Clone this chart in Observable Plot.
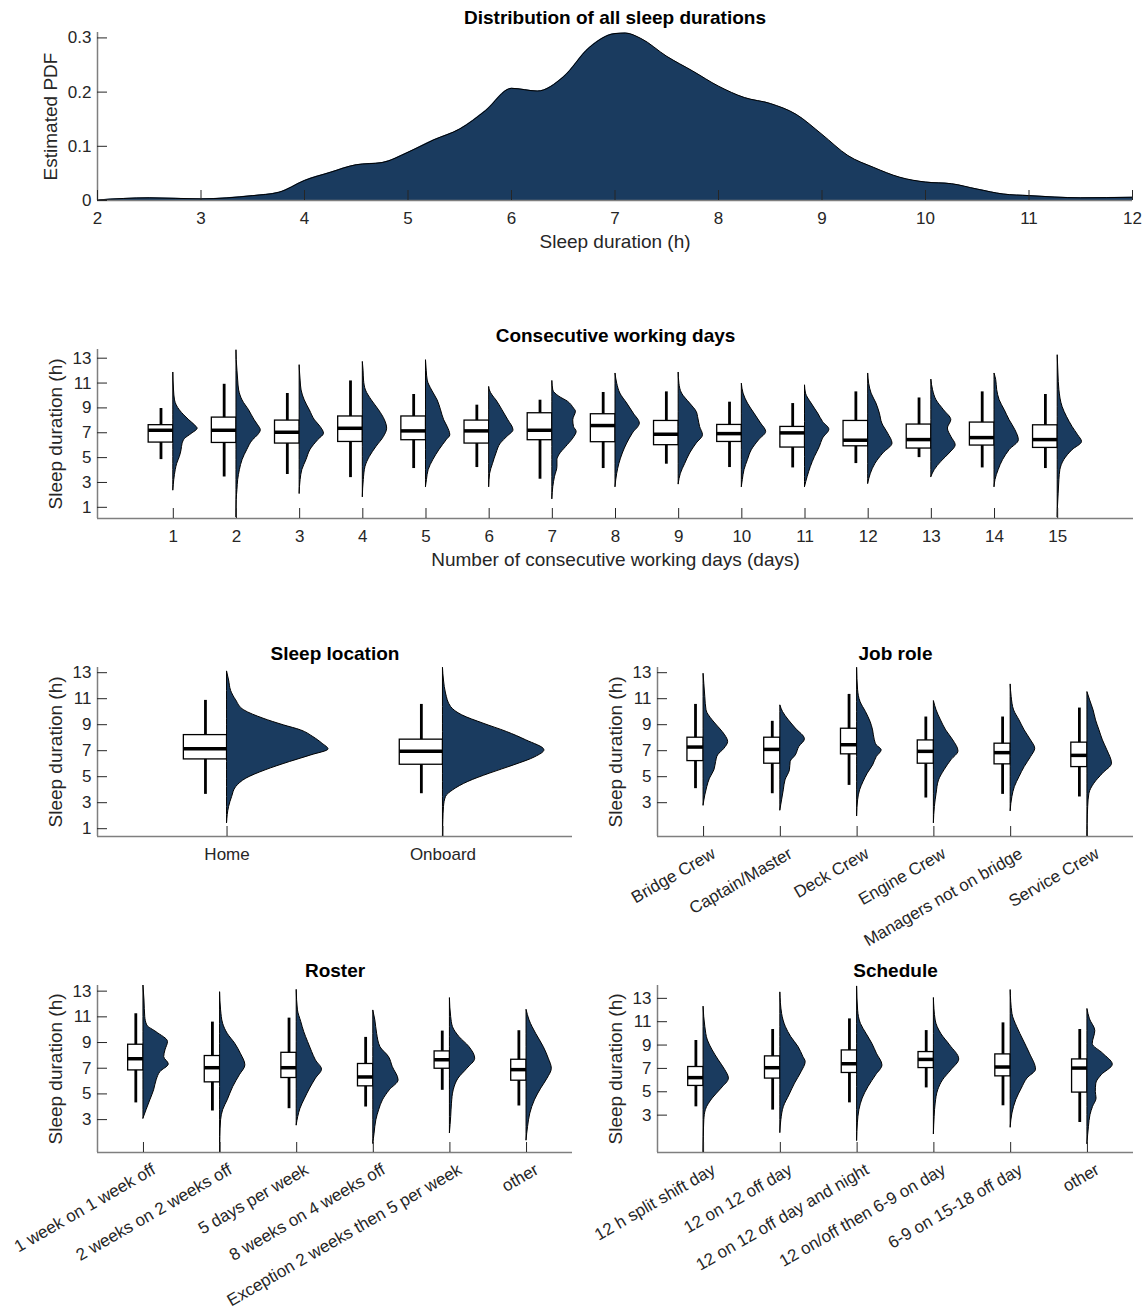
<!DOCTYPE html>
<html>
<head>
<meta charset="utf-8">
<script src="https://cdn.jsdelivr.net/npm/d3@7"></script>
<script src="https://cdn.jsdelivr.net/npm/@observablehq/plot@0.6"></script>
<style>
  body { margin: 0; background: #fff; }
  #chart { position: relative; width: 1147px; height: 1309px; background: #fff; }
  .panel { position: absolute; }
</style>
</head>
<body>
<div id="chart"></div>
<script>
// ---------- Distribution of all sleep durations (kernel density estimate) ----------
const pdfHours  = [2, 2.5, 3, 3.5, 3.75, 4, 4.25, 4.5, 4.75, 5, 5.25, 5.5, 5.75, 6, 6.25, 6.5, 6.75, 7, 7.1, 7.25, 7.5, 7.75, 8, 8.25, 8.5, 8.75, 9, 9.25, 9.5, 9.75, 10, 10.25, 10.5, 10.75, 11, 11.5, 12];
const pdfValues = [0.001, 0.005, 0.003, 0.009, 0.015, 0.037, 0.052, 0.066, 0.070, 0.089, 0.112, 0.132, 0.166, 0.207, 0.202, 0.228, 0.282, 0.308, 0.309, 0.299, 0.266, 0.239, 0.211, 0.190, 0.179, 0.159, 0.122, 0.083, 0.061, 0.043, 0.034, 0.031, 0.021, 0.012, 0.009, 0.005, 0.006];

// Box statistics per group: [lower whisker, Q1, median, Q3, upper whisker] (hours)
// Violin profiles per group: [sleep hours, relative density width 0..1]

// ---------- Consecutive working days ----------
const dayLabels = ["1","2","3","4","5","6","7","8","9","10","11","12","13","14","15"];
const dayBoxes = [
  [4.84, 6.21, 7.20, 7.61, 8.95],
  [3.44, 6.18, 7.20, 8.22, 10.90],
  [3.64, 6.13, 7.04, 7.98, 10.16],
  [3.39, 6.26, 7.36, 8.31, 11.17],
  [4.12, 6.40, 7.15, 8.31, 10.08],
  [4.20, 6.13, 7.15, 7.98, 9.22],
  [3.26, 6.40, 7.20, 8.57, 9.62],
  [4.12, 6.24, 7.58, 8.49, 10.24],
  [4.47, 6.00, 6.88, 7.95, 10.29],
  [4.20, 6.26, 6.93, 7.63, 9.46],
  [4.17, 5.81, 6.99, 7.47, 9.35],
  [4.52, 5.91, 6.40, 7.95, 10.29],
  [5.00, 5.73, 6.45, 7.66, 9.80],
  [4.17, 5.97, 6.61, 7.82, 10.29],
  [4.12, 5.78, 6.45, 7.60, 10.08]
];
const dayViolins = [
  [[11.85,0],[10.4,0.03],[9.6,0.07],[9.2,0.14],[8.8,0.27],[8.4,0.45],[8.0,0.66],[7.6,0.89],[7.33,1],[6.9,0.75],[6.5,0.48],[6.1,0.38],[5.6,0.34],[5.06,0.27],[4.5,0.16],[4.0,0.1],[3.2,0.04],[2.37,0]],
  [[13.64,0],[12.84,0.01],[12.0,0.04],[11.2,0.07],[10.4,0.11],[9.6,0.25],[8.8,0.52],[8.0,0.75],[7.6,0.89],[7.2,1],[6.8,0.89],[6.4,0.68],[5.6,0.44],[4.8,0.25],[4.0,0.14],[3.2,0.07],[2.4,0.04],[1.6,0.01],[0.2,0]],
  [[12.44,0],[12.0,0.01],[11.2,0.04],[10.4,0.08],[9.6,0.21],[8.8,0.42],[8.0,0.63],[7.47,0.86],[6.93,1],[6.4,0.76],[5.6,0.44],[4.8,0.28],[4.0,0.11],[3.2,0.04],[2.1,0]],
  [[12.7,0],[12.0,0.03],[11.2,0.05],[10.4,0.13],[9.6,0.37],[8.8,0.67],[8.0,0.91],[7.33,1],[6.67,0.87],[5.86,0.56],[5.06,0.29],[4.25,0.11],[3.2,0.04],[1.83,0]],
  [[12.84,0],[12.0,0.03],[11.2,0.07],[10.4,0.25],[9.6,0.48],[8.8,0.62],[8.0,0.75],[7.47,0.89],[6.8,1],[6.4,0.85],[5.6,0.55],[4.8,0.3],[4.0,0.11],[3.2,0.04],[2.64,0]],
  [[10.69,0],[10.4,0.03],[10.0,0.14],[9.6,0.3],[8.8,0.55],[8.0,0.79],[7.2,1],[6.67,0.75],[6.13,0.48],[5.33,0.3],[4.5,0.16],[3.7,0.04],[2.64,0]],
  [[11.17,0],[10.4,0.04],[9.9,0.29],[9.5,0.64],[8.95,0.89],[8.7,0.97],[8.0,0.86],[7.47,0.89],[7.07,1],[6.53,0.86],[5.86,0.57],[5.2,0.29],[4.8,0.21],[4.25,0.21],[3.45,0.11],[2.64,0.04],[1.67,0]],
  [[11.77,0],[10.95,0.07],[10.15,0.2],[9.35,0.48],[8.54,0.75],[7.74,1],[6.93,0.71],[6.13,0.48],[5.33,0.3],[4.5,0.16],[3.7,0.07],[2.64,0]],
  [[11.85,0],[10.95,0.03],[10.15,0.14],[9.35,0.47],[8.68,0.74],[8.14,0.81],[7.47,0.88],[6.8,1],[6.13,0.74],[5.33,0.47],[4.5,0.27],[3.7,0.09],[2.86,0]],
  [[10.95,0],[10.15,0.07],[9.35,0.25],[8.54,0.52],[7.74,0.79],[7.07,1],[6.4,0.71],[5.6,0.41],[4.8,0.25],[4.0,0.11],[3.2,0.04],[2.64,0]],
  [[10.82,0],[10.15,0.04],[9.35,0.27],[8.54,0.54],[7.87,0.74],[7.25,1],[6.53,0.74],[5.86,0.61],[5.06,0.41],[4.25,0.24],[3.45,0.11],[2.64,0]],
  [[11.77,0],[10.95,0.04],[10.15,0.14],[9.35,0.34],[8.54,0.48],[7.74,0.58],[6.93,0.82],[6.13,1],[5.33,0.62],[4.5,0.3],[3.7,0.11],[2.9,0]],
  [[11.28,0],[10.42,0.07],[9.62,0.21],[8.81,0.52],[8.01,0.82],[7.34,0.68],[6.67,0.82],[6.0,1],[5.33,0.75],[4.66,0.41],[4.0,0.14],[3.44,0]],
  [[11.77,0],[11.23,0.07],[10.42,0.11],[9.62,0.21],[8.81,0.42],[8.01,0.62],[7.2,0.86],[6.4,1],[5.6,0.62],[4.8,0.35],[4.0,0.17],[3.2,0.04],[2.64,0]],
  [[13.24,0],[11.77,0.03],[10.42,0.07],[9.08,0.2],[8.28,0.38],[7.47,0.61],[6.8,0.84],[6.26,1],[5.6,0.61],[4.8,0.27],[4.0,0.11],[3.2,0.07],[2.1,0.04],[1.0,0.01],[0.2,0]]
];

// ---------- Sleep location ----------
const locationLabels = ["Home", "Onboard"];
const locationBoxes = [
  [3.64, 6.33, 7.15, 8.20, 10.87],
  [3.69, 5.92, 6.95, 7.85, 10.56]
];
const locationViolins = [
  [[13.1,0],[12.4,0.02],[11.6,0.04],[10.87,0.09],[10.1,0.17],[9.46,0.36],[8.95,0.56],[8.56,0.73],[8.05,0.85],[7.54,0.94],[7.1,1],[6.64,0.83],[6.13,0.62],[5.49,0.38],[4.85,0.19],[4.2,0.09],[3.44,0.05],[2.67,0.02],[1.44,0]],
  [[13.38,0],[12.4,0.01],[11.4,0.03],[10.36,0.08],[9.72,0.19],[9.08,0.4],[8.44,0.63],[7.8,0.82],[7.03,1],[6.5,0.91],[5.87,0.7],[5.23,0.46],[4.6,0.25],[3.95,0.1],[3.44,0.03],[2.67,0.01],[1.64,0.004],[0.41,0]]
];

// ---------- Job role ----------
const roleLabels = ["Bridge Crew", "Captain/Master", "Deck Crew", "Engine Crew", "Managers not on bridge", "Service Crew"];
const roleBoxes = [
  [4.08, 6.20, 7.28, 8.00, 10.56],
  [3.69, 6.00, 7.10, 8.00, 9.26],
  [4.33, 6.72, 7.46, 8.69, 11.33],
  [3.36, 6.00, 6.95, 7.79, 9.59],
  [3.64, 5.95, 6.85, 7.54, 9.59],
  [3.44, 5.74, 6.64, 7.62, 10.28]
];
const roleViolins = [
  [[12.92,0],[12.15,0.03],[11.13,0.07],[10.1,0.12],[9.33,0.37],[8.7,0.66],[8.18,0.88],[7.67,1],[7.15,0.85],[6.64,0.59],[6.13,0.51],[5.49,0.44],[4.85,0.26],[4.2,0.15],[3.56,0.07],[2.79,0]],
  [[10.49,0],[9.97,0.11],[9.33,0.35],[8.7,0.63],[7.87,1],[7.28,0.77],[6.64,0.63],[6.13,0.42],[5.49,0.39],[4.72,0.21],[3.95,0.14],[3.18,0.07],[2.41,0]],
  [[13.38,0],[11.64,0.04],[10.74,0.14],[9.97,0.36],[9.2,0.55],[8.56,0.65],[7.8,0.72],[7.41,0.8],[7.03,1],[6.51,0.8],[5.87,0.65],[5.23,0.43],[4.59,0.26],[3.95,0.12],[3.18,0.04],[1.97,0]],
  [[10.82,0],[10.1,0.11],[9.33,0.29],[8.56,0.5],[7.79,0.79],[6.95,1],[6.26,0.71],[5.49,0.43],[4.72,0.21],[3.69,0.11],[2.67,0.04],[1.44,0]],
  [[12.1,0],[11.13,0.04],[10.1,0.14],[9.33,0.36],[8.56,0.57],[7.79,0.83],[7.15,1],[6.51,0.83],[5.74,0.57],[4.97,0.36],[4.2,0.17],[3.44,0.07],[2.36,0]],
  [[11.51,0],[10.87,0.11],[10.1,0.25],[9.33,0.35],[8.56,0.49],[7.79,0.63],[7.03,0.81],[6.0,1],[5.23,0.63],[4.46,0.28],[3.69,0.08],[2.67,0.03],[1.38,0.01],[0.41,0]]
];

// ---------- Roster ----------
const rosterLabels = ["1 week on 1 week off", "2 weeks on 2 weeks off", "5 days per week", "8 weeks on 4 weeks off", "Exception 2 weeks then 5 per week", "other"];
const rosterBoxes = [
  [4.30, 6.83, 7.74, 8.83, 11.24],
  [3.67, 5.90, 7.04, 7.95, 10.59],
  [3.85, 6.24, 7.04, 8.20, 10.90],
  [3.98, 5.59, 6.32, 7.33, 9.40],
  [5.28, 6.96, 7.66, 8.31, 9.89],
  [4.06, 6.03, 6.89, 7.66, 9.92]
];
const rosterViolins = [
  [[13.44,0],[12.27,0.04],[10.98,0.07],[10.33,0.15],[9.8,0.52],[9.04,0.97],[8.39,0.87],[7.87,0.82],[7.3,1],[6.7,0.67],[6.06,0.52],[5.28,0.42],[4.5,0.27],[3.73,0.12],[3.08,0]],
  [[12.92,0],[11.5,0.04],[10.46,0.12],[9.68,0.3],[8.9,0.6],[8.13,0.82],[7.22,1],[6.45,0.78],[5.54,0.52],[4.5,0.3],[3.73,0.12],[2.95,0.04],[1.65,0.01],[0.44,0]],
  [[13.1,0],[11.5,0.05],[10.6,0.18],[9.8,0.3],[9.04,0.45],[8.26,0.61],[7.61,0.76],[6.89,1],[6.19,0.76],[5.41,0.53],[4.63,0.33],[3.85,0.15],[3.2,0.06],[2.56,0]],
  [[11.5,0],[10.72,0.08],[9.68,0.15],[8.65,0.28],[7.87,0.62],[7.09,0.77],[6.06,1],[5.28,0.65],[4.5,0.38],[3.73,0.23],[2.95,0.12],[1.91,0.05],[1.13,0]],
  [[12.46,0],[10.98,0.05],[10.2,0.12],[9.42,0.38],[8.65,0.77],[7.74,1],[6.96,0.69],[6.19,0.34],[5.28,0.15],[4.24,0.08],[3.2,0.05],[1.96,0]],
  [[11.55,0],[10.72,0.12],[9.68,0.38],[8.65,0.68],[7.74,0.88],[6.96,1],[6.19,0.83],[5.41,0.58],[4.5,0.33],[3.47,0.15],[2.43,0.06],[1.39,0]]
];

// ---------- Schedule ----------
const scheduleLabels = ["12 h split shift day", "12 on 12 off day", "12 on 12 off day and night", "12 on/off then 6-9 on day", "6-9 on 15-18 off day", "other"];
const scheduleBoxes = [
  [3.71, 5.50, 6.21, 7.12, 9.39],
  [3.43, 6.13, 7.06, 8.03, 10.33],
  [4.05, 6.61, 7.40, 8.54, 11.24],
  [5.33, 7.03, 7.77, 8.40, 10.24],
  [3.80, 6.32, 7.12, 8.20, 10.90],
  [2.37, 4.93, 7.03, 7.77, 10.33]
];
const scheduleViolins = [
  [[12.29,0],[10.53,0.07],[9.39,0.17],[8.54,0.36],[7.69,0.6],[6.84,0.86],[6.13,1],[5.27,0.71],[4.42,0.36],[3.43,0.09],[2.57,0.03],[1.15,0.01],[-0.18,0]],
  [[13.51,0],[11.66,0.07],[10.53,0.22],[9.68,0.43],[8.82,0.72],[7.97,0.91],[7.55,1],[6.69,0.84],[5.7,0.58],[4.7,0.36],[3.71,0.14],[2.57,0.04],[1.49,0]],
  [[14.02,0],[11.95,0.04],[10.81,0.15],[9.96,0.37],[9.11,0.6],[8.26,0.78],[7.26,1],[6.41,0.75],[5.41,0.45],[4.42,0.22],[3.43,0.09],[2.29,0.03],[0.81,0]],
  [[13.03,0],[11.1,0.07],[9.96,0.29],[8.97,0.64],[7.77,1],[6.84,0.69],[5.98,0.36],[5.13,0.17],[3.99,0.07],[2.86,0.03],[1.38,0]],
  [[13.71,0],[11.66,0.07],[10.53,0.26],[9.39,0.51],[8.26,0.76],[6.89,1],[6.13,0.66],[5.27,0.44],[4.28,0.22],[3.14,0.07],[1.95,0]],
  [[12.09,0],[11.2,0.1],[10.2,0.31],[9.1,0.21],[8.26,0.62],[7.32,1],[6.41,0.56],[5.7,0.35],[4.99,0.33],[4.42,0.36],[3.7,0.22],[3.0,0.12],[2.0,0.06],[0.53,0]]
];

const sleepTicks = [1, 3, 5, 7, 9, 11, 13];
const sleepTicksNoOne = [3, 5, 7, 9, 11, 13];

// ---------- styling ----------
const NAVY = "#1a3b5f";
const AXIS = "#7f7f7f";
const TICK = "#262626";
const TEXT = "#262626";
const FONT = "'Liberation Sans', Arial, Helvetica, sans-serif";
const TICK_FS = 17, LABEL_FS = 19, TITLE_FS = 19;
const TICK_LEN = 10;

const chart = document.getElementById("chart");

function place(svg, left, top, width) {
  const div = document.createElement("div");
  div.className = "panel";
  div.style.left = left + "px";
  div.style.top = top + "px";
  div.style.width = width + "px";
  div.appendChild(svg);
  chart.appendChild(div);
}

// Axis lines, inward ticks, y tick labels, title and axis labels
function frameMarks(p) {
  const plotW = p.width - p.ml - p.mr;
  const plotH = p.height - p.mt - p.mb;
  const marks = [
    Plot.ruleY([p.yDomain[0]], {stroke: AXIS, strokeWidth: 1.5}),
    Plot.ruleX([p.xDomain[0]], {stroke: AXIS, strokeWidth: 1.5}),
    Plot.ruleX(p.xTicks, {x: d => d, insetTop: plotH - TICK_LEN, stroke: TICK, strokeWidth: 1}),
    Plot.ruleY(p.yTicks, {y: d => d, insetRight: plotW - TICK_LEN, stroke: TICK, strokeWidth: 1}),
    Plot.text(p.yTicks, {y: d => d, frameAnchor: "left", textAnchor: "end", lineAnchor: "middle", dx: -6, text: p.yFormat || (d => String(d)), fontSize: TICK_FS, fill: TEXT}),
    Plot.text([p.title], {text: d => d, frameAnchor: "top", textAnchor: "middle", lineAnchor: "middle", dy: p.titleDy, fontSize: TITLE_FS, fontWeight: "bold", fill: "#000"}),
    Plot.text([p.yLabel], {text: d => d, frameAnchor: "left", textAnchor: "middle", lineAnchor: "middle", dx: p.yLabelDx, rotate: -90, fontSize: LABEL_FS, fill: TEXT})
  ];
  if (p.xLabel) marks.push(Plot.text([p.xLabel], {text: d => d, frameAnchor: "bottom", textAnchor: "middle", lineAnchor: "middle", dy: 41, fontSize: LABEL_FS, fill: TEXT}));
  return marks;
}

function basePlot(p, marks) {
  return Plot.plot({
    width: p.width, height: p.height,
    marginLeft: p.ml, marginRight: p.mr, marginTop: p.mt, marginBottom: p.mb,
    x: {domain: p.xDomain, axis: null},
    y: {domain: p.yDomain, axis: null},
    style: {fontFamily: FONT, fontSize: TICK_FS + "px", background: "transparent", overflow: "visible", color: TEXT},
    marks
  });
}

// ---------- panel 1: density of all sleep durations ----------
{
  const p = {width: 1147, height: 265, ml: 97, mr: 15, mt: 32, mb: 65,
    xDomain: [2, 12], yDomain: [0, 0.31],
    xTicks: d3.range(2, 13), yTicks: [0, 0.1, 0.2, 0.3], yFormat: d => d === 0 ? "0" : d.toFixed(1),
    title: "Distribution of all sleep durations", titleDy: -15,
    yLabel: "Estimated PDF", yLabelDx: -47, xLabel: "Sleep duration (h)"};
  const rows = pdfHours.map((h, k) => ({h, p: pdfValues[k]}));
  const svg = basePlot(p, [
    Plot.areaY(rows, {x: "h", y: "p", curve: "monotone-x", fill: NAVY}),
    Plot.lineY(rows, {x: "h", y: "p", curve: "monotone-x", stroke: "#000", strokeWidth: 1}),
    ...frameMarks(p),
    Plot.text(p.xTicks, {x: d => d, frameAnchor: "bottom", textAnchor: "middle", lineAnchor: "top", dy: 11, text: d => String(d), fontSize: TICK_FS, fill: TEXT})
  ]);
  place(svg, 0, 0, p.width);
}

// ---------- half-violin + box plot panels ----------
function violinPanel(p, labels, boxes, violins) {
  const B = p.boxWidth, W = p.violinWidth;
  const boxRows = boxes.map(([lo, q1, med, q3, hi], k) => ({i: k + 1, lo, q1, med, q3, hi}));
  const violinRows = violins.flatMap((prof, k) =>
    prof.map(([y, w]) => ({i: k + 1, y, x1: k + 1, x2: k + 1 + w * W})).sort((a, b) => a.y - b.y));
  p.xTicks = labels.map((d, k) => k + 1);
  const tickLabels = p.rotate
    ? Plot.text(labels, {x: (d, k) => k + 1, text: d => d, frameAnchor: "bottom", rotate: -30, textAnchor: "end", lineAnchor: "top", dx: 7, dy: 10, fontSize: TICK_FS, fill: TEXT})
    : Plot.text(labels, {x: (d, k) => k + 1, text: d => d, frameAnchor: "bottom", textAnchor: "middle", lineAnchor: "top", dy: 11, fontSize: TICK_FS, fill: TEXT});
  return basePlot(p, [
    Plot.ruleX(boxRows, {x: d => d.i - B / 2, y1: "lo", y2: "hi", stroke: "#000", strokeWidth: 2.8}),
    Plot.rect(boxRows, {x1: d => d.i - B, x2: d => d.i, y1: "q1", y2: "q3", fill: "#fff", stroke: "#000", strokeWidth: 1.3}),
    Plot.ruleY(boxRows, {y: "med", x1: d => d.i - B, x2: d => d.i, stroke: "#000", strokeWidth: 3.5}),
    Plot.areaX(violinRows, {y: "y", x1: "x1", x2: "x2", z: "i", curve: "monotone-y", fill: NAVY, stroke: "#000", strokeWidth: 1}),
    ...frameMarks(p),
    tickLabels
  ]);
}

// panel 2: consecutive working days
place(violinPanel({width: 1147, height: 290, ml: 97, mr: 14, mt: 49, mb: 72,
  xDomain: [-0.2, 16.2], yDomain: [0.1, 13.7], yTicks: sleepTicks,
  boxWidth: 0.39, violinWidth: 0.385,
  title: "Consecutive working days", titleDy: -14,
  yLabel: "Sleep duration (h)", yLabelDx: -42,
  xLabel: "Number of consecutive working days (days)"}, dayLabels, dayBoxes, dayViolins), 0, 300, 1147);

// panel 3: sleep location
place(violinPanel({width: 600, height: 260, ml: 97, mr: 28, mt: 47, mb: 44,
  xDomain: [0.4, 2.6], yDomain: [0.4, 13.4], yTicks: sleepTicks,
  boxWidth: 0.2, violinWidth: 0.47,
  title: "Sleep location", titleDy: -14,
  yLabel: "Sleep duration (h)", yLabelDx: -42}, locationLabels, locationBoxes, locationViolins), 0, 620, 600);

// panel 4: job role
place(violinPanel({width: 567, height: 320, ml: 77, mr: 14, mt: 47, mb: 104,
  xDomain: [0.4, 6.6], yDomain: [0.4, 13.4], yTicks: sleepTicksNoOne,
  boxWidth: 0.21, violinWidth: 0.32, rotate: true,
  title: "Job role", titleDy: -14,
  yLabel: "Sleep duration (h)", yLabelDx: -42}, roleLabels, roleBoxes, roleViolins), 580, 620, 567);

// panel 5: roster
place(violinPanel({width: 600, height: 369, ml: 97, mr: 28, mt: 45, mb: 157,
  xDomain: [0.4, 6.6], yDomain: [0.44, 13.44], yTicks: sleepTicksNoOne,
  boxWidth: 0.2, violinWidth: 0.33, rotate: true,
  title: "Roster", titleDy: -15,
  yLabel: "Sleep duration (h)", yLabelDx: -42}, rosterLabels, rosterBoxes, rosterViolins), 0, 940, 600);

// panel 6: schedule
place(violinPanel({width: 567, height: 369, ml: 77, mr: 14, mt: 45, mb: 157,
  xDomain: [0.4, 6.6], yDomain: [-0.2, 14.1], yTicks: sleepTicksNoOne,
  boxWidth: 0.2, violinWidth: 0.33, rotate: true,
  title: "Schedule", titleDy: -15,
  yLabel: "Sleep duration (h)", yLabelDx: -42}, scheduleLabels, scheduleBoxes, scheduleViolins), 580, 940, 567);
</script>
</body>
</html>
